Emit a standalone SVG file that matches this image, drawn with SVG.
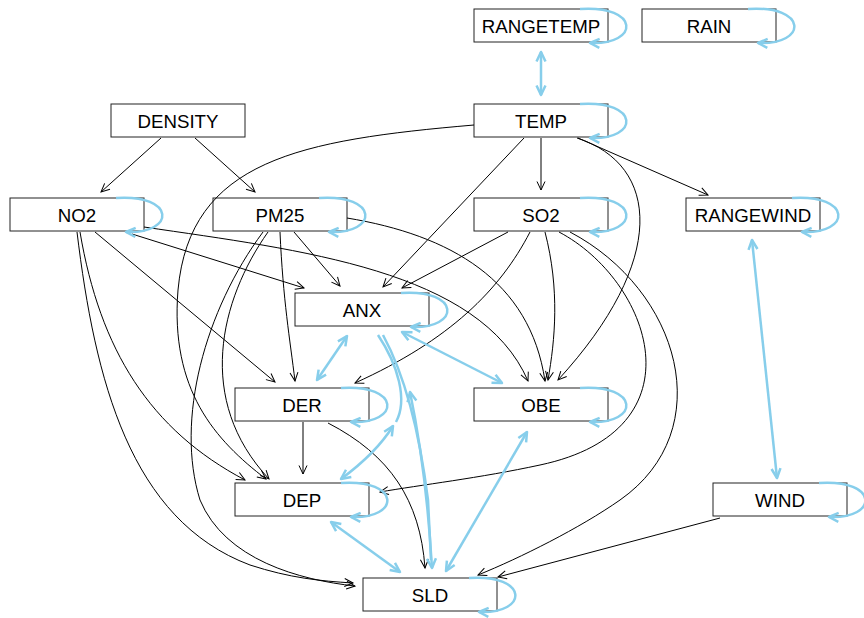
<svg xmlns="http://www.w3.org/2000/svg" width="864" height="618" viewBox="0 0 864 618">
  <defs>
    <style>
      .node rect { fill: #ffffff; stroke: #222222; stroke-width: 1; }
      .node text { font-family: "Liberation Sans", Arial, sans-serif; font-size: 18.7px; text-anchor: middle; fill: #000000; }
      .e { fill: none; stroke: #000000; stroke-width: 1; marker-end: url(#ah); }
      .c { fill: none; stroke: #87CEEB; stroke-width: 2.5; marker-start: url(#bh); marker-end: url(#bh); }
      .l { fill: none; stroke: #87CEEB; stroke-width: 2.5; marker-end: url(#bh); }
      .p { fill: none; stroke: #87CEEB; stroke-width: 2.5; }
    </style>
    <!-- open chevron for directed paths -->
    <marker id="ah" markerUnits="userSpaceOnUse" markerWidth="12" markerHeight="12" refX="10" refY="6" orient="auto" overflow="visible">
      <path d="M1.5,2 L10,6 L1.5,10" fill="none" stroke="#000000" stroke-width="1"/>
    </marker>
    <!-- open chevron for covariances and variances -->
    <marker id="bh" markerUnits="userSpaceOnUse" markerWidth="14" markerHeight="14" refX="11" refY="6" orient="auto-start-reverse" overflow="visible">
      <path d="M1.5,1.5 L11,6 L1.5,10.5" fill="none" stroke="#87CEEB" stroke-width="2.5" stroke-linejoin="round"/>
    </marker>
  </defs>

  <rect x="0" y="0" width="864" height="618" fill="#ffffff"/>

  <!-- nodes -->
  <g id="RANGETEMP" class="node"><rect x="474" y="9" width="134" height="33"/><text x="541" y="33">RANGETEMP</text></g>
  <g id="RAIN" class="node"><rect x="642" y="9" width="134" height="33"/><text x="709" y="33">RAIN</text></g>
  <g id="TEMP" class="node"><rect x="474" y="104" width="134" height="33"/><text x="541" y="128">TEMP</text></g>
  <g id="DENSITY" class="node"><rect x="111" y="104" width="134" height="33"/><text x="178" y="128">DENSITY</text></g>
  <g id="NO2" class="node"><rect x="10" y="198" width="134" height="33"/><text x="77" y="222">NO2</text></g>
  <g id="PM25" class="node"><rect x="213" y="198" width="134" height="33"/><text x="280" y="222">PM25</text></g>
  <g id="SO2" class="node"><rect x="474" y="198" width="134" height="33"/><text x="541" y="222">SO2</text></g>
  <g id="RANGEWIND" class="node"><rect x="686" y="198" width="134" height="33"/><text x="753" y="222">RANGEWIND</text></g>
  <g id="ANX" class="node"><rect x="295" y="293" width="134" height="33"/><text x="362" y="317">ANX</text></g>
  <g id="DER" class="node"><rect x="235" y="388" width="134" height="33"/><text x="302" y="412">DER</text></g>
  <g id="OBE" class="node"><rect x="474" y="388" width="134" height="33"/><text x="541" y="412">OBE</text></g>
  <g id="DEP" class="node"><rect x="235" y="483" width="134" height="33"/><text x="302" y="507">DEP</text></g>
  <g id="WIND" class="node"><rect x="713" y="483" width="134" height="33"/><text x="780" y="507">WIND</text></g>
  <g id="SLD" class="node"><rect x="363" y="578" width="134" height="33"/><text x="430" y="602">SLD</text></g>

  <g id="connectors">
    <!-- regressions -->
    <path class="e" d="M161,138 L101,192"/>
    <path class="e" d="M195,138 L255,192"/>
    <path class="e" d="M541,138 L541,190"/>
    <path class="e" d="M578,138 L708,195"/>
    <path class="e" d="M524,138 L383,287"/>
    <path class="e" d="M577,138 C660,165 668,260 558,380"/>
    <path class="e" d="M474,125 C300,140 190,160 178,290 C170,390 215,440 266,479"/>
    <path class="e" d="M132,234 L304,288"/>
    <path class="e" d="M144,227 C300,250 480,270 528,381"/>
    <path class="e" d="M95,232 L275,382"/>
    <path class="e" d="M80,232 C100,350 150,430 245,480"/>
    <path class="e" d="M77,232 C95,380 130,520 250,565 C290,578 320,581 353,583"/>
    <path class="e" d="M294,232 L340,286"/>
    <path class="e" d="M280,232 C283,300 290,340 295,381"/>
    <path class="e" d="M347,218 C450,235 530,280 545,381"/>
    <path class="e" d="M268,232 C220,300 195,400 269,479"/>
    <path class="e" d="M263,232 C205,310 175,420 200,500 C225,560 300,580 355,586"/>
    <path class="e" d="M508,232 L402,288"/>
    <path class="e" d="M530,232 C500,290 450,340 355,383"/>
    <path class="e" d="M545,232 C560,290 555,340 548,380"/>
    <path class="e" d="M559,232 C650,280 705,430 540,465 C480,478 420,485 380,492"/>
    <path class="e" d="M570,232 C680,290 720,430 620,500 C580,528 520,558 478,575"/>
    <path class="e" d="M303,422 L303,474"/>
    <path class="e" d="M328,423 C390,455 420,500 425,568"/>
    <path class="e" d="M720,518 L498,577"/>

    <!-- covariances -->
    <path class="c" d="M541,52 L541,95"/>
    <path class="c" d="M752,240 L777,478"/>
    <path class="c" d="M347,336 L317,380"/>
    <path class="c" d="M402,332 L502,383"/>
    <path class="c" d="M527,432 L446,571"/>
    <path class="c" d="M331,522 L400,572"/>
    <path class="p" d="M378,335 C398,365 408,400 396,422"/>
    <path class="c" d="M393,426 C380,447 360,465 341,479"/>
    <path class="p" d="M383,335 C402,370 418,420 428,500 L431,560"/>
    <path class="c" d="M410,392 C420,440 428,500 432,568"/>

    <!-- variances -->
    <path class="l" d="M580,9 C640,5 640,45 590,43"/>
    <path class="l" d="M748,9 C808,5 808,45 758,43"/>
    <path class="l" d="M580,104 C640,100 640,140 590,138"/>
    <path class="l" d="M116,198 C176,194 176,234 126,232"/>
    <path class="l" d="M319,198 C379,194 379,234 329,232"/>
    <path class="l" d="M580,198 C640,194 640,234 590,232"/>
    <path class="l" d="M792,198 C852,194 852,234 802,232"/>
    <path class="l" d="M401,293 C461,289 461,329 411,327"/>
    <path class="l" d="M341,388 C401,384 401,424 351,422"/>
    <path class="l" d="M580,388 C640,384 640,424 590,422"/>
    <path class="l" d="M341,483 C401,479 401,519 351,517"/>
    <path class="l" d="M819,483 C879,479 879,519 829,517"/>
    <path class="l" d="M469,578 C529,574 529,614 479,612"/>
  </g>
</svg>
